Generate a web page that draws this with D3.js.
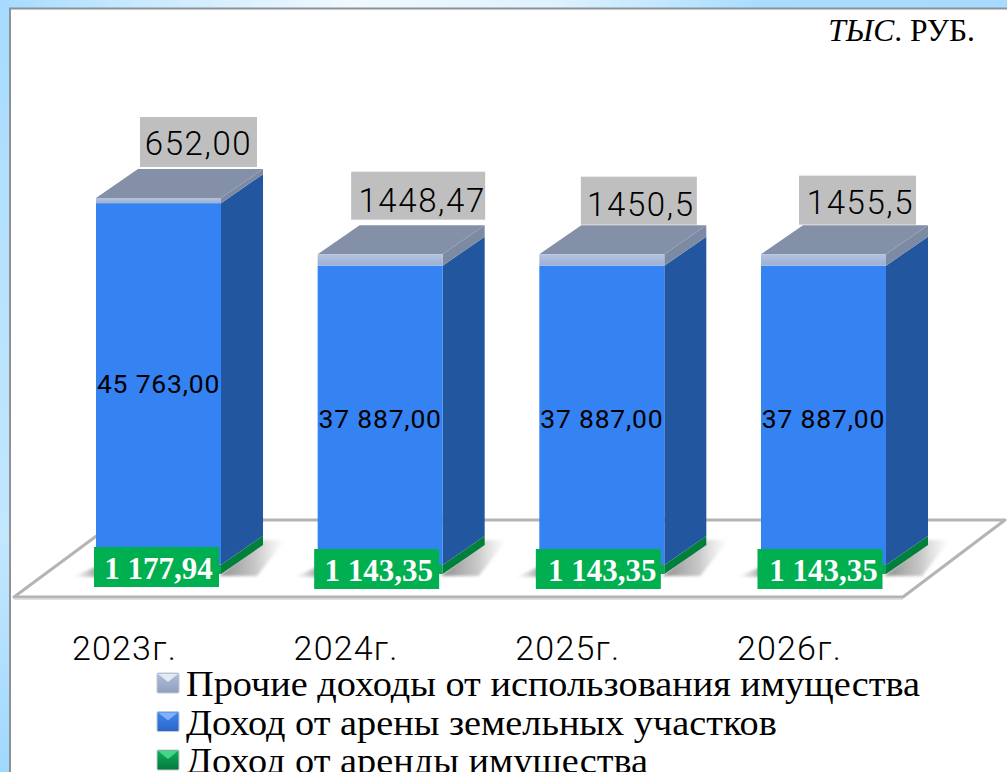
<!DOCTYPE html>
<html><head><meta charset="utf-8">
<script src="https://cdn.jsdelivr.net/npm/d3@7/dist/d3.min.js"></script>
<style>html,body{margin:0;padding:0;background:#fff;overflow:hidden}svg{display:block}</style>
</head><body><svg id="c" width="1007" height="772"></svg>
<script>
const categories = ["2023г.","2024г.","2025г.","2026г."];
const otherIncome = [652.00,1448.47,1450.5,1455.5];
const landRent = [45763.00,37887.00,37887.00,37887.00];
const propertyRent = [1177.94,1143.35,1143.35,1143.35];
const otherLabels = ["652,00","1448,47","1450,5","1455,5"];
const landLabels = ["45 763,00","37 887,00","37 887,00","37 887,00"];
const propertyLabels = ["1 177,94","1 143,35","1 143,35","1 143,35"];
const legendNames = ["Прочие доходы от использования имущества","Доход от арены земельных участков","Доход от аренды имущества"];
const legendColors = [["#aebcd6","#8fa0c0"],["#3f86ee","#2a66c8"],["#0cae5a","#07783f"]];
const legendHighlights = ["#e4e9f3","#7fb2f7","#45d68c"];

const svg = d3.select("#c"), defs = svg.append("defs");
function grad(id,stops,x2,y2){
  const g=defs.append("linearGradient").attr("id",id).attr("x1",0).attr("y1",0).attr("x2",x2).attr("y2",y2);
  stops.forEach(s=>g.append("stop").attr("offset",s[0]).attr("stop-color",s[1]).attr("stop-opacity",s[2]===undefined?1:s[2]));
}
grad("bgTop",[[0,"#a6dbff"],[0.12,"#c5e8ff"],[0.35,"#f0f9ff"],[0.55,"#dff2ff"],[0.75,"#a9ddff"],[1,"#a6dbff"]],1,0);
grad("bgLeft",[[0,"#a6dbff"],[0.4,"#b9e3ff"],[0.7,"#c2e7ff"],[1,"#a0d8ff"]],0,1);
grad("lightEdge",[[0,"#b4c3e0"],[1,"#9cb0d4"]],0,1);
grad("shadowR",[[0,"#777",0.85],[0.55,"#999",0.55],[1,"#bbb",0]],1,0);
grad("shadowL",[[0,"#bbb",0],[1,"#777",0.85]],1,0);
defs.append("filter").attr("id","soft").attr("x","-30%").attr("y","-30%").attr("width","160%").attr("height","160%")
  .append("feGaussianBlur").attr("stdDeviation",1.5);
defs.append("filter").attr("id","edge").attr("x","-5%").attr("y","-5%").attr("width","110%").attr("height","110%")
  .append("feGaussianBlur").attr("stdDeviation",0.6);

svg.append("rect").attr("width",1007).attr("height",9).attr("fill","url(#bgTop)");
svg.append("rect").attr("width",9).attr("height",772).attr("fill","url(#bgLeft)");
svg.append("path").attr("d","M10,772V8.5H1007").attr("fill","none").attr("stroke","#8c9296").attr("stroke-width",2);

const x = d3.scaleBand().domain(categories).range([96,886]).paddingInner(0.436).paddingOuter(0);
const y = d3.scaleLinear().domain([0,47593]).range([574,198]);
const dx = 42, dy = 29;
const poly = p => p.map(q=>q.join(",")).join(" ");

// floor
svg.append("polygon").attr("points",poly([[14,597],[903,597],[1005,520],[118,520]]))
  .attr("fill","#fff").attr("stroke","#b4b4b4").attr("stroke-width",3).attr("stroke-linejoin","round");
svg.append("line").attr("x1",14).attr("x2",903).attr("y1",599).attr("y2",599).attr("stroke","#d6d6d6").attr("stroke-width",1.5);

categories.forEach((c,i)=>{
  const l=x(c), w=x.bandwidth(), r=l+w;
  const y0=y(0), y1=y(propertyRent[i]), y2=y(propertyRent[i]+landRent[i]), y3=y(propertyRent[i]+landRent[i]+otherIncome[i]);
  const g=svg.append("g");
  // shadows
  g.append("polygon").attr("points",poly([[l-24,y0+3],[l+4,y0-9],[l+4,y0+3]])).attr("fill","url(#shadowL)").attr("filter","url(#soft)");
  g.append("polygon").attr("points",poly([[r-2,y0+2],[r+dx,y0-dy-5],[r+dx+22,y0-dy-5],[r+36,y0+2]])).attr("fill","url(#shadowR)").attr("filter","url(#soft)");
  const bar=g.append("g").attr("filter","url(#edge)");
  // right side
  bar.append("polygon").attr("points",poly([[r,y0],[r+dx,y0-dy],[r+dx,y1-dy],[r,y1]])).attr("fill","#05803a");
  bar.append("polygon").attr("points",poly([[r,y1],[r+dx,y1-dy],[r+dx,y2-dy],[r,y2]])).attr("fill","#22569e");
  bar.append("polygon").attr("points",poly([[r,y2],[r+dx,y2-dy],[r+dx,y3-dy],[r,y3]])).attr("fill","#7b8aa3");
  // top
  bar.append("polygon").attr("points",poly([[l,y3],[l+dx,y3-dy],[r+dx,y3-dy],[r,y3]])).attr("fill","#8390a8");
  // front
  bar.append("rect").attr("x",l).attr("y",y1).attr("width",w).attr("height",y0-y1).attr("fill","#07a651");
  bar.append("rect").attr("x",l).attr("y",y2).attr("width",w).attr("height",y1-y2).attr("fill","#3682f3");
  bar.append("rect").attr("x",l).attr("y",y3).attr("width",w).attr("height",y2-y3).attr("fill","url(#lightEdge)");
});

// category labels
svg.append("g").selectAll("text").data(categories).join("text")
  .attr("x",d=>x(d)+x.bandwidth()/2-34).attr("y",660).attr("text-anchor","middle")
  .attr("font-family","Roboto").attr("font-weight",300).attr("font-size",34).attr("letter-spacing",1.2).attr("fill","#000").text(d=>d);

// land labels
const landDy=[0,3,3,3];
svg.append("g").selectAll("text").data(landLabels).join("text")
  .attr("x",(d,i)=>x(categories[i])+x.bandwidth()/2).attr("y",(d,i)=>(y(propertyRent[i])+y(propertyRent[i]+landRent[i]))/2+9.5+landDy[i])
  .attr("text-anchor","middle").attr("font-family","Roboto").attr("font-size",26.5).attr("letter-spacing",0.8).attr("fill","#000").text(d=>d);

// property labels
const propTextDx=[2,2,4,3.5];
propertyLabels.forEach((t,i)=>{
  const cx=x(categories[i])+x.bandwidth()/2-2-(i?1.5:0), top=i?549:547;
  svg.append("rect").attr("x",cx-62.5).attr("y",top).attr("width",125).attr("height",40).attr("fill","#00af50");
  svg.append("text").attr("x",cx+propTextDx[i]).attr("y",top+32).attr("text-anchor","middle")
    .attr("font-family","Liberation Serif").attr("font-weight","bold").attr("font-size",31).attr("fill","#fff").text(t);
});

// other labels
const otherDx=[40,38,37,34], otherW=[117,134,116,117], otherH=[50,48,48,49], otherGap=[31,34.5,29.5,29.5], otherTextDy=[1,4,3,1.5], otherTextDx=[0,4,2,3];
otherLabels.forEach((t,i)=>{
  const c=categories[i], cx=x(c)+x.bandwidth()/2+otherDx[i];
  const bottom=y(propertyRent[i]+landRent[i]+otherIncome[i])-otherGap[i];
  svg.append("rect").attr("x",cx-otherW[i]/2).attr("y",bottom-otherH[i]).attr("width",otherW[i]).attr("height",otherH[i]).attr("fill","#bfbfbf");
  svg.append("text").attr("x",cx+otherTextDx[i]).attr("y",bottom-otherH[i]/2+12+otherTextDy[i]).attr("text-anchor","middle")
    .attr("font-family","Roboto").attr("font-weight",300).attr("font-size",33).attr("letter-spacing",1.6).attr("fill","#000").text(t);
});

// unit
const unit=svg.append("text").attr("x",975).attr("y",41).attr("text-anchor","end")
  .attr("font-family","Liberation Serif").attr("font-size",31.5).attr("fill","#000");
unit.append("tspan").attr("font-style","italic").text("ТЫС");
unit.append("tspan").text(". РУБ.");

// legend
const ly=d3.scalePoint().domain(legendNames).range([685,762]);
legendNames.forEach((n,i)=>{
  const id="lg"+i, yy=ly(n);
  grad(id,[[0,legendColors[i][0]],[1,legendColors[i][1]]],0,1);
  svg.append("rect").attr("x",157).attr("y",yy-12).attr("width",22).attr("height",20).attr("rx",1.5).attr("fill","url(#"+id+")").attr("stroke","#c4c8d0").attr("stroke-width",1);
  svg.append("polygon").attr("points",poly([[158,yy-11],[178,yy-11],[168,yy-3]])).attr("fill",legendHighlights[i]);
  svg.append("text").attr("transform","translate(186,"+(yy+11)+") scale(1.064,1)")
    .attr("font-family","Liberation Serif").attr("font-size",36).attr("fill","#000").text(n);
});
</script></body></html>
